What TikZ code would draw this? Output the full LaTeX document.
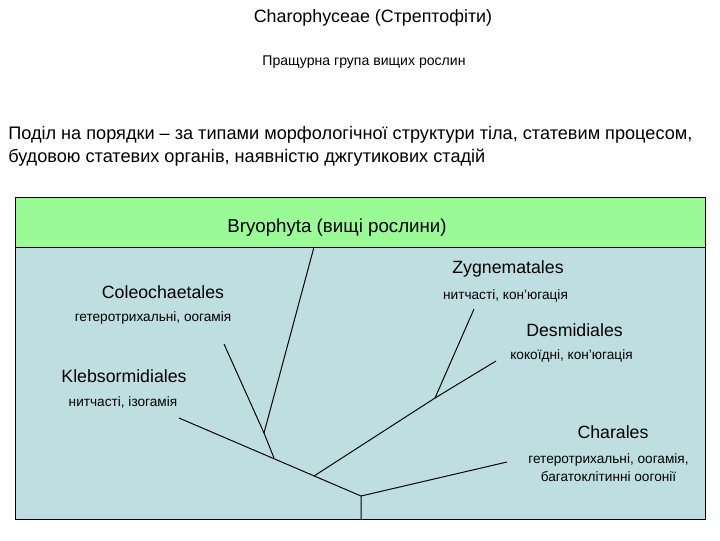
\documentclass[tikz,border=0pt]{standalone}
\usepackage{fontspec}
\setmainfont{Liberation Sans}
\usetikzlibrary{positioning}
\definecolor{bandgreen}{RGB}{153,250,150}
\definecolor{paleblue}{RGB}{190,222,226}

\begin{document}
\begin{tikzpicture}[x=0.025cm, y=-0.025cm,
    order/.style={font=\fontsize{12.6}{15}\selectfont},
    trait/.style={font=\fontsize{9.7}{12.8}\selectfont, align=center},
    branch/.style={line width=0.7pt}]
  \useasboundingbox (0,0) rectangle (720,540);

  % heading texts
  \node (title) at (373,18) {\fontsize{12.7}{15}\selectfont Charophyceae (Стрептофіти)};
  \node (sub) at (364,62) {\fontsize{10}{12}\selectfont Пращурна група вищих рослин};
  \node[anchor=west, align=left, inner sep=0, font=\fontsize{12.9}{16.3}\selectfont] (rule) at (8,146.5)
    {Поділ на порядки – за типами морфологічної структури тіла, статевим процесом,\\
     будовою статевих органів, наявністю джгутикових стадій};

  % box with green band
  \fill[paleblue] (15,247) rectangle (705,519);
  \fill[bandgreen] (15,197) rectangle (705,247);
  \draw (15,197) rectangle (705,519);
  \draw (15,247) -- (705,247);
  \node[font=\fontsize{13.3}{15}\selectfont] (bryo) at (337,228) {Bryophyta (вищі рослини)};

  % orders
  \node[order] (coleo) at (163,292) {Coleochaetales};
  \node[trait] (coleot) at (153,318) {гетеротрихальні, оогамія};
  \node[order] (klebs) at (124,376) {Klebsormidiales};
  \node[trait] (klebst) at (123,402) {нитчасті, ізогамія};
  \node[order] (zyg) at (508,269) {Zygnematales};
  \node[trait] (zygt) at (505.5,296) {нитчасті, кон'югація};
  \node[order] (desm) at (574.5,330) {Desmidiales};
  \node[trait] (desmt) at (571.5,356) {кокоїдні, кон'югація};
  \node[order] (chara) at (613,432) {Charales};
  \node[trait] (charat) at (608.5,468) {гетеротрихальні, оогамія,\\багатоклітинні оогонії};

  % tree
  \coordinate (base) at (361,519);
  \coordinate (root) at (361,496);
  \coordinate (klebsend) at (179,418);
  \coordinate (charaend) at (507,462);
  \coordinate (fork1) at (314,476);
  \coordinate (fork2) at (274,458);
  \coordinate (zdfork) at (435,398);
  \coordinate (zygend) at (474,309);
  \coordinate (desmend) at (496,361);
  \coordinate (cbfork) at (264,433);
  \coordinate (coleoend) at (224,344);
  \coordinate (bryoend) at (314,247);
  \draw[branch] (base) -- (root) -- (klebsend);
  \draw[branch] (root) -- (charaend);
  \draw[branch] (fork1) -- (zdfork) -- (desmend);
  \draw[branch] (zdfork) -- (zygend);
  \draw[branch] (fork2) -- (cbfork) -- (bryoend);
  \draw[branch] (cbfork) -- (coleoend);
\end{tikzpicture}
\end{document}
